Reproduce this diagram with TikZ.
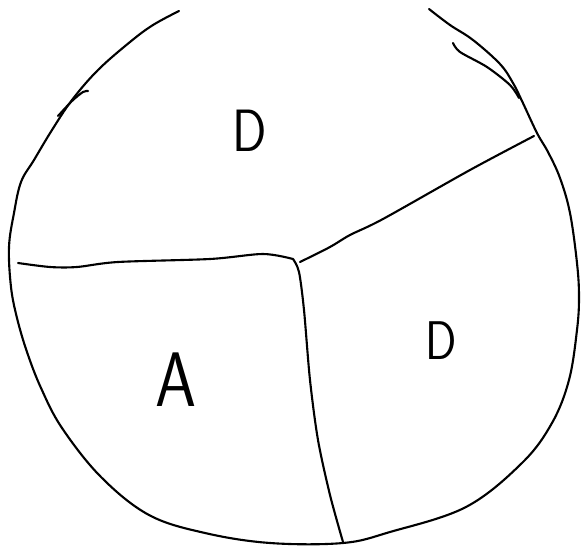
\documentclass[tikz,border=0pt]{standalone}
\begin{document}
\begin{tikzpicture}[x=0.02cm,y=-0.02cm,line width=1.2pt,line cap=round,line join=round,
    lettre/.style={font=\sffamily\fontsize{#1}{#1}\selectfont,xscale=0.85}]
            \useasboundingbox (0,0) rectangle (583,548);
            % contour
            \draw plot[smooth,tension=0.6] coordinates {(179,11) (153,25) (130,42) (98,70) (72,100) (52,130) (34,160) (21,182) (14,213) (9,247) (11,287) (17,318) (27,352) (41,388) (62,428) (101,477) (149,515) (205,533) (270,543) (343,543) (390,532) (466,507) (522,463) (552,423) (569,380) (577,330) (579,297) (577,263) (570,213) (560,178) (548,152) (537,133) (522,101) (513,83) (500,64) (473,40) (450,25) (429,9)};
            \draw plot[smooth] coordinates {(58,116) (72,101) (83,92) (88,91)};
            \draw plot[smooth] coordinates {(453,43) (460,52) (487,67) (510,85) (519,98)};
            % separations
            \coordinate (centre) at (293,259);
            \draw plot[smooth,tension=0.5] coordinates {(18,263) (50,267) (77,267) (118,262) (210,259) (263,254) (centre)};
            \draw plot[smooth,tension=0.5] coordinates {(centre) (299,272) (304,310) (310,380) (318,440) (330,495) (343,542)};
            \draw plot[smooth] coordinates {(300,262) (330,247) (350,235) (383,219) (470,170) (534,136)};
            \node[lettre=34] (dhaut) at (250,131) {D};
            \node[lettre=44] (agauche) at (176,380) {A};
            \node[lettre=31] (ddroite) at (441,341) {D};
        \end{tikzpicture}
\end{document}
